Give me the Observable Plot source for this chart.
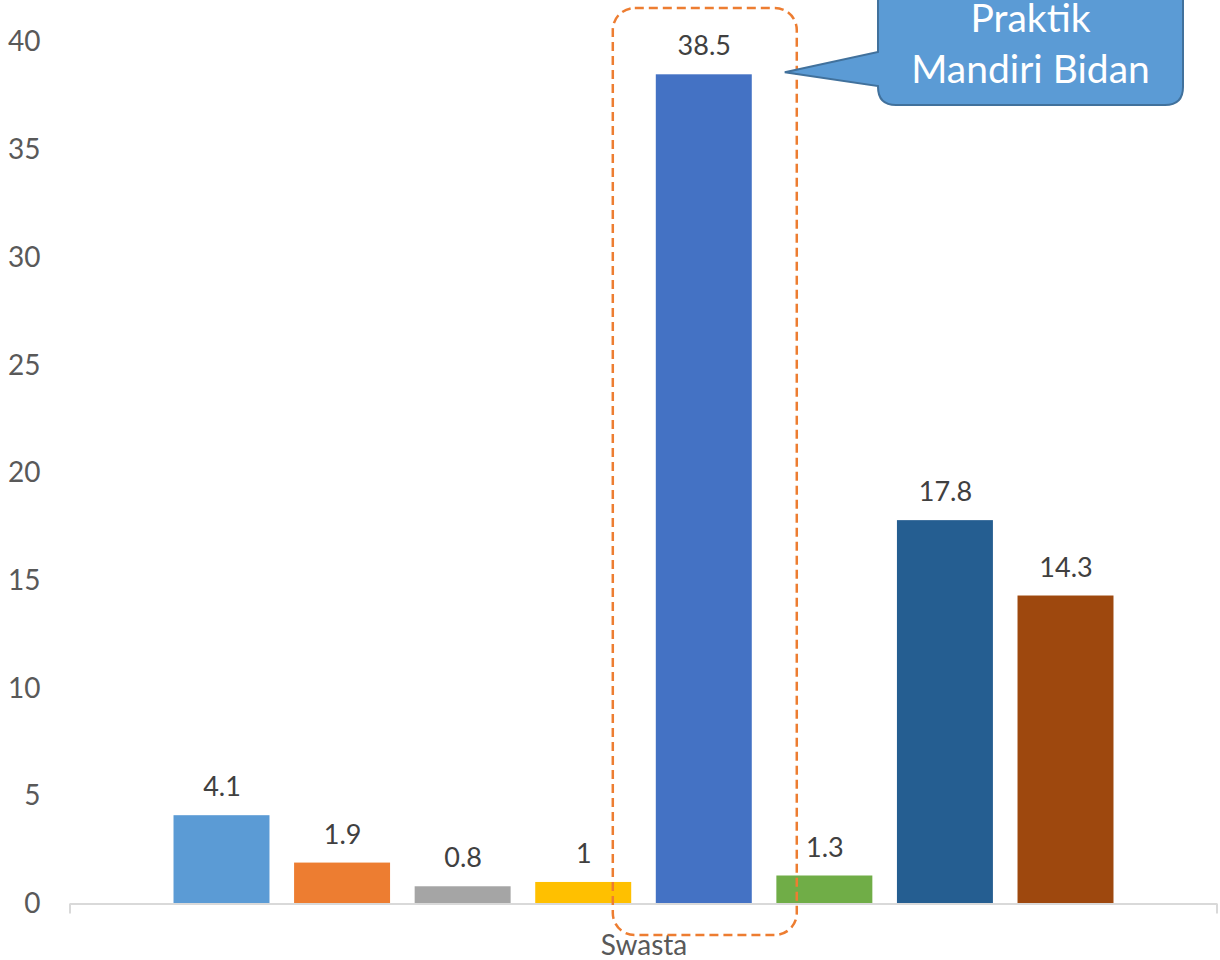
<!DOCTYPE html>
<html><head><meta charset="utf-8">
<script src="https://cdn.jsdelivr.net/npm/d3@7"></script>
<script src="https://cdn.jsdelivr.net/npm/@observablehq/plot@0.6"></script>
<style>
body{margin:0;background:#fff;}
#chart{position:relative;width:1220px;height:960px;overflow:hidden;}
</style>
</head><body><div id="chart"></div>
<script>
const categories = ["Swasta"];
const series = ["Seri 1","Seri 2","Seri 3","Seri 4","Praktik Mandiri Bidan","Seri 6","Seri 7","Seri 8"];
const values = [4.1, 1.9, 0.8, 1, 38.5, 1.3, 17.8, 14.3];
const colors = ["#5B9BD5","#ED7D31","#A5A5A5","#FFC000","#4472C4","#70AD47","#255E91","#9E480E"];
const yTicks = [0,5,10,15,20,25,30,35,40];
const highlighted = "Praktik Mandiri Bidan";
const calloutLines = ["Praktik","Mandiri Bidan"];

const data = series.map((s,i)=>({category:categories[0], series:s, value:values[i]}));

const plot = Plot.plot({
  width:1220, height:960,
  marginLeft:70, marginRight:3, marginTop:42, marginBottom:56.5,
  style:{fontFamily:"Lato, 'Open Sans', sans-serif", background:"#fff"},
  x:{domain:series, paddingInner:0.204, paddingOuter:0.8585, round:false, axis:null},
  y:{domain:[0,40]},
  color:{domain:series, range:colors},
  marks:[
    Plot.axisY({ticks:yTicks, tickSize:0, tickPadding:30, fontSize:28, fill:"#595959", label:null}),
    Plot.barY(data,{x:"series", y:"value", fill:"series"}),
    Plot.ruleY([0],{stroke:"#D9D9D9", strokeWidth:2}),
    Plot.text(data,{x:"series", y:"value", text:d=>String(d.value), dy:-28, fontSize:27, fill:"#404040"}),
    Plot.text(categories,{text:d=>d, frameAnchor:"bottom", dy:51, fontSize:28, fill:"#595959"})
  ]
});
document.getElementById("chart").appendChild(plot);

const xs = plot.scale("x"), ys = plot.scale("y");
const svg = d3.select(plot);
const g = svg.append("g");
const [r0, r1] = xs.range;
const y0 = ys.apply(0);
// category boundary ticks
[r0, r1].forEach(xx=>{
  g.append("line").attr("x1",xx).attr("x2",xx).attr("y1",y0).attr("y2",y0+10)
   .attr("stroke","#D9D9D9").attr("stroke-width",2);
});
// dashed highlight
const hx = xs.apply(highlighted), bw = xs.bandwidth;
const rx0 = hx - 43, rx1 = hx + bw + 45;
const ry0 = ys.apply(40) - 34, ry1 = y0 + 31.5;
g.append("rect").attr("x",rx0).attr("y",ry0).attr("width",rx1-rx0).attr("height",ry1-ry0)
  .attr("rx",22).attr("fill","none").attr("stroke","#ED7D31").attr("stroke-width",2.5)
  .attr("stroke-dasharray","9 5");
// callout
const tipX = rx1 - 12, tipY = ys.apply(values[series.indexOf(highlighted)]) - 2;
const bx0 = 878, bx1 = 1183, by0 = -30, by1 = 105, r = 18, pTop = 52, pBot = 86;
const path = `M${bx0+r},${by0} H${bx1-r} Q${bx1},${by0} ${bx1},${by0+r} V${by1-r} Q${bx1},${by1} ${bx1-r},${by1} H${bx0+r} Q${bx0},${by1} ${bx0},${by1-r} V${pBot} L${tipX},${tipY} L${bx0},${pTop} V${by0+r} Q${bx0},${by0} ${bx0+r},${by0} Z`;
g.append("path").attr("d",path).attr("fill","#5B9BD5").attr("stroke","#41719C").attr("stroke-width",2);
const cx = (bx0+bx1)/2;
[32, 83].forEach((yy,i)=>{
  g.append("text").attr("x",cx).attr("y",yy).attr("text-anchor","middle")
   .attr("font-family","Lato, 'Open Sans', sans-serif").attr("font-size",39).attr("fill","#fff")
   .text(calloutLines[i]);
});
</script>
</body></html>
